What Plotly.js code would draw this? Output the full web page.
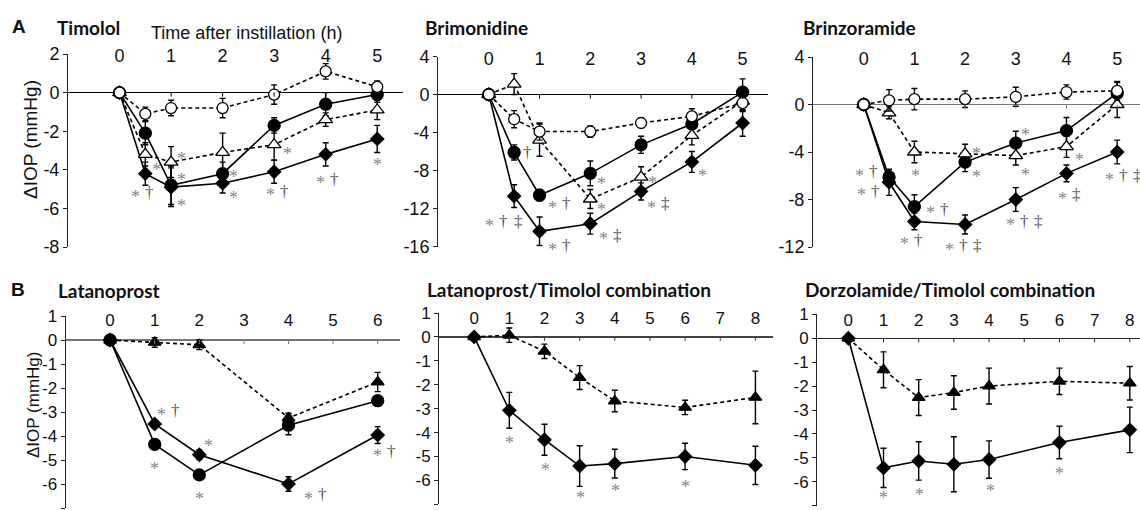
<!DOCTYPE html>
<html><head><meta charset="utf-8">
<script src="https://cdn.plot.ly/plotly-3.0.1.min.js"></script>
<style>html,body{margin:0;padding:0;background:#fff}#chart{width:1140px;height:510px}</style>
</head><body><div id="chart"></div>
<script>
// ---------- DATA ----------
const hoursA = [0, 0.5, 1, 2, 3, 4, 5];
const xTicksA = [0, 1, 2, 3, 4, 5];

const timololYTicks = [2, 0, -2, -4, -6, -8];
const timololOpenCircle = [0, -1.1, -0.8, -0.8, -0.1, 1.1, 0.3];
const timololOpenCircleErr = [0, 0.35, 0.4, 0.5, 0.5, 0.4, 0.3];
const timololOpenTriangle = [0, -3.2, -3.6, -3.1, -2.7, -1.4, -0.9];
const timololOpenTriangleErr = [0, 0.6, 0.8, 1.0, 0.8, 0.35, 0.5];
const timololFilledCircle = [0, -2.1, -4.8, -4.2, -1.7, -0.6, -0.1];
const timololFilledCircleErr = [0, 0.6, 1.0, 0.6, 0.4, 0.6, 0.4];
const timololDiamond = [0, -4.2, -4.9, -4.7, -4.1, -3.2, -2.4];
const timololDiamondErr = [0, 0.6, 1.0, 0.5, 0.6, 0.6, 0.7];
const timololSig = [[0.45,-5.2,'* †'],[0.72,-3.8,'*'],[1.2,-3.25,'*'],[1.2,-4.3,'*'],[1.2,-5.65,'*'],
  [2.22,-4.15,'*'],[2.22,-5.25,'*'],[3.25,-2.95,'*'],[3.07,-5.1,'* †'],[4.03,-4.5,'* †'],[5.0,-3.55,'*']];

const brimoYTicks = [4, 0, -4, -8, -12, -16];
const brimoOpenCircle = [0, -2.6, -3.9, -3.9, -3.0, -2.3, -0.9];
const brimoOpenCircleErr = [0, 0.9, 0.9, 0.6, 0.5, 0.8, 0.9];
const brimoOpenTriangle = [0, 1.1, -4.8, -11.0, -8.7, -4.3, -0.7];
const brimoOpenTriangleErr = [0, 1.1, 1.7, 1.0, 1.1, 1.0, 1.0];
const brimoFilledCircle = [0, -6.1, -10.6, -8.3, -5.3, -3.1, 0.25];
const brimoFilledCircleErr = [0, 0.8, 0.6, 1.3, 0.9, 0.9, 1.4];
const brimoDiamond = [0, -10.7, -14.4, -13.6, -10.2, -7.1, -3.0];
const brimoDiamondErr = [0, 1.2, 1.5, 1.1, 0.9, 1.1, 1.4];
const brimoSig = [[0.76,-6.1,'†'],[0.3,-13.4,'* † ‡'],[1.4,-11.5,'* †'],[1.4,-15.9,'* †'],[2.22,-9.05,'*'],
  [2.22,-11.75,'*'],[2.4,-14.8,'* ‡'],[3.23,-8.85,'*'],[3.35,-11.5,'* ‡'],[4.21,-8.2,'*']];

const brinzoYTicks = [4, 0, -4, -8, -12];
const brinzoOpenCircle = [0, 0.35, 0.45, 0.45, 0.65, 1.05, 1.15];
const brinzoOpenCircleErr = [0, 0.9, 0.9, 0.7, 0.8, 0.6, 0.8];
const brinzoOpenTriangle = [0, -0.7, -4.0, -4.15, -4.3, -3.55, 0.0];
const brinzoOpenTriangleErr = [0, 0.5, 0.9, 0.8, 0.8, 0.9, 1.1];
const brinzoFilledCircle = [0, -6.1, -8.6, -4.85, -3.25, -2.2, 0.95];
const brinzoFilledCircleErr = [0, 0.6, 1.0, 0.8, 1.0, 1.1, 0.9];
const brinzoDiamond = [0, -6.55, -9.85, -10.1, -8.0, -5.8, -4.0];
const brinzoDiamondErr = [0, 1.1, 0.7, 0.8, 1.0, 0.7, 1.0];
const brinzoSig = [[0.05,-5.65,'* †'],[0.1,-7.3,'* †'],[1.02,-5.7,'*'],[1.45,-8.8,'* †'],[0.95,-11.45,'* †'],
  [2.23,-3.8,'*'],[2.23,-5.8,'*'],[1.97,-11.9,'* † ‡'],[3.2,-2.2,'*'],[3.2,-5.6,'*'],[3.17,-9.85,'* † ‡'],
  [4.25,-4.3,'*'],[4.05,-7.6,'* ‡'],[5.12,-6.0,'* † ‡']];

const hoursLat = [0, 1, 2, 4, 6];
const xTicksLat = [0, 1, 2, 3, 4, 5, 6];
const yTicksB = [1, 0, -1, -2, -3, -4, -5, -6, -7];
const latTriangle = [0, -0.1, -0.2, -3.25, -1.75];
const latTriangleErr = [0, 0.2, 0.2, 0.2, 0.4];
const latCircle = [0, -4.35, -5.62, -3.55, -2.53];
const latCircleErr = [0, 0.1, 0.2, 0.4, 0.1];
const latDiamond = [0, -3.5, -4.78, -6.0, -3.96];
const latDiamondErr = [0, 0.1, 0.2, 0.3, 0.35];
const latSig = [[1.3,-2.95,'* †'],[1.0,-5.2,'*'],[2.2,-4.25,'*'],[2.0,-6.45,'*'],[4.6,-6.45,'* †'],[6.15,-4.65,'* †']];

const hoursComb = [0, 1, 2, 3, 4, 6, 8];
const xTicksComb = [0, 1, 2, 3, 4, 5, 6, 7, 8];
const ltTriangle = [0, 0.07, -0.6, -1.7, -2.68, -2.95, -2.53];
const ltTriangleErr = [0, 0.3, 0.3, 0.5, 0.45, 0.3, 1.1];
const ltDiamond = [0, -3.07, -4.3, -5.4, -5.3, -5.0, -5.37];
const ltDiamondErr = [0, 0.75, 0.65, 0.85, 0.6, 0.55, 0.8];
const ltSig = [[1.0,-4.25,'*'],[2.03,-5.4,'*'],[3.02,-6.55,'*'],[4.03,-6.28,'*'],[6.0,-6.1,'*']];

const dtTriangle = [0, -1.32, -2.48, -2.27, -2.0, -1.8, -1.88];
const dtTriangleErr = [0, 0.75, 0.75, 0.7, 0.75, 0.55, 0.7];
const dtDiamond = [0, -5.42, -5.13, -5.27, -5.07, -4.36, -3.83];
const dtDiamondErr = [0, 0.82, 0.8, 1.15, 0.78, 0.68, 0.95];
const dtSig = [[1.0,-6.5,'*'],[2.02,-6.4,'*'],[4.03,-6.2,'*'],[6.0,-5.5,'*']];

const panelTitles = ['Timolol', 'Brimonidine', 'Brinzoramide', 'Latanoprost',
  'Latanoprost/Timolol combination', 'Dorzolamide/Timolol combination'];
const panelLetters = ['A', 'B'];
const xAxisTitle = 'Time after instillation (h)';
const yAxisTitle = 'ΔIOP (mmHg)';

// ---------- LAYOUT HELPERS ----------
const W = 1140, H = 510;
const px = p => p / W;
const py = p => 1 - p / H;
const FONT = 'Liberation Sans, Arial, sans-serif';

const panels = [
  {xdom:[68,403],  ydom:[54,247],  xr:[-1,5.5],   yr:[-8,2],   xt:xTicksA,   yt:timololYTicks, fs:18, zc:'#000', sto:-13},
  {xdom:[438,768], ydom:[56.5,246.5], xr:[-1,5.5], yr:[-16,4], xt:xTicksA,   yt:brimoYTicks,   fs:18, zc:'#000', sto:-13},
  {xdom:[813,1140],ydom:[57,247],  xr:[-1,5.45],  yr:[-12,4],  xt:xTicksA,   yt:brinzoYTicks,  fs:18, zc:'#777', sto:-13},
  {xdom:[65.5,400],ydom:[316,508], xr:[-1,6.5],   yr:[-7,1],   xt:xTicksLat, yt:yTicksB,       fs:17, zc:'#777', sto:-14},
  {xdom:[439,773], ydom:[313,504.3], xr:[-1,8.5], yr:[-7,1],   xt:xTicksComb,yt:yTicksB,       fs:17, zc:'#444', sto:-15},
  {xdom:[817,1140],ydom:[314.3,505.7], xr:[-0.89,8.29], yr:[-7,1], xt:xTicksComb, yt:yTicksB, fs:17, zc:'#222', sto:-16}
];

const layout = {
  width: W, height: H, margin: {l:0, r:0, t:0, b:0},
  paper_bgcolor: '#fff', plot_bgcolor: 'rgba(0,0,0,0)',
  showlegend: false, annotations: [], shapes: []
};

panels.forEach((p, i) => {
  const n = i + 1;
  layout['xaxis' + n] = {
    domain: [px(p.xdom[0]), px(p.xdom[1])], range: p.xr, anchor: 'y' + n, side: 'top',
    showline: false, showgrid: false, zeroline: false, ticks: '',
    tickvals: p.xt, ticktext: p.xt.map(String), ticklabelstandoff: p.sto,
    tickfont: {family: FONT, size: p.fs, color: '#111'}, fixedrange: true
  };
  layout['yaxis' + n] = {
    domain: [py(p.ydom[1]), py(p.ydom[0])], range: p.yr, anchor: 'x' + n,
    showline: true, linecolor: '#222', linewidth: 1, showgrid: false,
    zeroline: true, zerolinecolor: p.zc, zerolinewidth: 1.3,
    ticks: 'outside', ticklen: 4, tickcolor: '#222',
    tickvals: p.yt, ticktext: p.yt.map(v => String(v)),
    tickfont: {family: FONT, size: p.fs, color: '#111'}, fixedrange: true
  };
  p.xt.forEach(t => {
    if (t === 0) return;
    layout.shapes.push({type:'line', xref:'x'+n, yref:'y'+n, x0:t, x1:t,
      ysizemode:'pixel', yanchor:0, y0:-4, y1:0, line:{color:p.zc, width:1}});
  });
});

// ---------- TRACES ----------
const traces = [];
function series(n, xs, ys, err, kind) {
  const styles = {
    openCircle:   {sym:'circle', fill:'#fff', size:11, dash:'4px,3px'},
    openTriangle: {sym:'triangle-up', fill:'#fff', size:12, dash:'4px,3px'},
    filledCircle: {sym:'circle', fill:'#000', size:12, dash:'solid'},
    diamond:      {sym:'diamond', fill:'#000', size:10, dash:'solid'},
    filledTriangle:{sym:'triangle-up', fill:'#000', size:11, dash:'4px,3px'}
  };
  const s = styles[kind];
  traces.push({
    type:'scatter', mode:'lines+markers', x: xs, y: ys, xaxis:'x'+n, yaxis:'y'+n,
    line:{color:'#000', width:1.6, dash:s.dash},
    marker:{symbol:s.sym, size:s.size, color:s.fill, line:{color:'#000', width:1.3}},
    error_y:{type:'data', array: err, visible:true, color:'#000', thickness:1.4, width:3},
    hoverinfo:'skip', cliponaxis:false
  });
}
series(1, hoursA, timololDiamond, timololDiamondErr, 'diamond');
series(1, hoursA, timololFilledCircle, timololFilledCircleErr, 'filledCircle');
series(1, hoursA, timololOpenTriangle, timololOpenTriangleErr, 'openTriangle');
series(1, hoursA, timololOpenCircle, timololOpenCircleErr, 'openCircle');

series(2, hoursA, brimoDiamond, brimoDiamondErr, 'diamond');
series(2, hoursA, brimoFilledCircle, brimoFilledCircleErr, 'filledCircle');
series(2, hoursA, brimoOpenTriangle, brimoOpenTriangleErr, 'openTriangle');
series(2, hoursA, brimoOpenCircle, brimoOpenCircleErr, 'openCircle');

series(3, hoursA, brinzoDiamond, brinzoDiamondErr, 'diamond');
series(3, hoursA, brinzoFilledCircle, brinzoFilledCircleErr, 'filledCircle');
series(3, hoursA, brinzoOpenTriangle, brinzoOpenTriangleErr, 'openTriangle');
series(3, hoursA, brinzoOpenCircle, brinzoOpenCircleErr, 'openCircle');

series(4, hoursLat, latDiamond, latDiamondErr, 'diamond');
series(4, hoursLat, latCircle, latCircleErr, 'filledCircle');
series(4, hoursLat, latTriangle, latTriangleErr, 'filledTriangle');

series(5, hoursComb, ltDiamond, ltDiamondErr, 'diamond');
series(5, hoursComb, ltTriangle, ltTriangleErr, 'filledTriangle');

series(6, hoursComb, dtDiamond, dtDiamondErr, 'diamond');
series(6, hoursComb, dtTriangle, dtTriangleErr, 'filledTriangle');

// ---------- SIGNIFICANCE MARKS (one annotation per symbol) ----------
[timololSig, brimoSig, brinzoSig, latSig, ltSig, dtSig].forEach((list, i) => {
  list.forEach(([x, y, t]) => {
    const toks = t.split(' ');
    toks.forEach((tok, k) => {
      const star = tok === '*';
      layout.annotations.push({xref:'x'+(i+1), yref:'y'+(i+1), x, y, text: tok,
        showarrow:false, xshift:(k - (toks.length - 1) / 2) * 14, yshift: star ? -4 : 0,
        font:{family:'Liberation Serif, serif', size: star ? 18 : 17, color: star ? '#888' : '#555'}});
    });
  });
});

// ---------- TITLES ----------
const titlePos = [[88,27],[476.5,27],[859,27],[108.7,290],[569,289.5],[950,289]];
panelTitles.forEach((t, i) => {
  layout.annotations.push({xref:'paper', yref:'paper', x:px(titlePos[i][0]), y:py(titlePos[i][1]),
    xanchor:'center', yanchor:'middle', showarrow:false, text:'<b>'+t+'</b>',
    font:{family:'Lato, sans-serif', size:19, color:'#111'}});
});
[[19,26],[18,289]].forEach((p, i) => {
  layout.annotations.push({xref:'paper', yref:'paper', x:px(p[0]), y:py(p[1]),
    xanchor:'center', yanchor:'middle', showarrow:false, text:'<b>'+panelLetters[i]+'</b>',
    font:{family:FONT, size:19, color:'#111'}});
});
layout.annotations.push({xref:'paper', yref:'paper', x:px(246.5), y:py(33), xanchor:'center', yanchor:'middle',
  showarrow:false, text:xAxisTitle, font:{family:FONT, size:18, color:'#111'}});
[[30,140,19],[33,405,17]].forEach(p => {
  layout.annotations.push({xref:'paper', yref:'paper', x:px(p[0]), y:py(p[1]), xanchor:'center', yanchor:'middle',
    textangle:-90, showarrow:false, text:yAxisTitle, font:{family:FONT, size:p[2], color:'#111'}});
});

Plotly.newPlot('chart', traces, layout, {staticPlot:true, displayModeBar:false});
</script></body></html>
